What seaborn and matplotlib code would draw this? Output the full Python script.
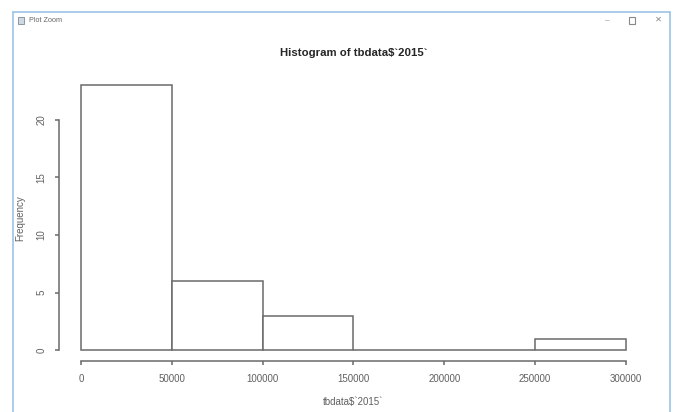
import matplotlib
matplotlib.use("Agg")
import matplotlib.pyplot as plt
from matplotlib.patches import Rectangle
import seaborn as sns
import numpy as np

# ---- data ----
bin_edges = [0, 50000, 100000, 150000, 200000, 250000, 300000]
bin_counts = [23, 6, 3, 0, 0, 1]
x_ticks = [0, 50000, 100000, 150000, 200000, 250000, 300000]
y_ticks = [0, 5, 10, 15, 20]
title = "Histogram of tbdata$`2015`"
x_label = "tbdata$`2015`"
y_label = "Frequency"

bin_mids = [(a + b) / 2 for a, b in zip(bin_edges[:-1], bin_edges[1:])]

sns.set_theme(style="white")
plt.rcParams['font.family'] = ['Liberation Sans', 'DejaVu Sans']

W, H = 676, 412
fig = plt.figure(figsize=(W / 100, H / 100), dpi=100)
fig.patch.set_facecolor("white")

def fx(px):
    return px / W

def fy(py):
    return 1 - py / H

# axes region in pixels
left, right, top, bottom = 59.2, 647.8, 74.4, 361.0
ax = fig.add_axes([fx(left), fy(bottom), fx(right) - fx(left), fy(top) - fy(bottom)])

line_col = "#6a6a6a"
text_col = "#606060"

sns.histplot(x=bin_mids, weights=bin_counts, bins=bin_edges, ax=ax,
             color="white", edgecolor=line_col, linewidth=1.1, alpha=1.0)

xmax = bin_edges[-1]
ymax = max(bin_counts)
ax.set_xlim(-0.04 * xmax, xmax * 1.04)
ax.set_ylim(-0.04 * ymax, ymax * 1.04)
ax.set_facecolor("white")

for s in ["top", "right"]:
    ax.spines[s].set_visible(False)
ax.spines["left"].set_bounds(y_ticks[0], y_ticks[-1])
ax.spines["bottom"].set_bounds(x_ticks[0], x_ticks[-1])
for s in ["left", "bottom"]:
    ax.spines[s].set_color(line_col)
    ax.spines[s].set_linewidth(1.1)

ax.set_xticks(x_ticks)
ax.set_xticklabels([str(v) for v in x_ticks])
ax.set_yticks(y_ticks)
ax.set_yticklabels([str(v) for v in y_ticks])
ax.tick_params(axis="both", direction="out", length=3.0, width=1.1, color=line_col,
               labelsize=7, labelcolor=text_col, bottom=True, left=True)
ax.tick_params(axis="x", pad=6)
for lab in ax.get_yticklabels():
    lab.set_rotation(90)
    lab.set_va("center")
    lab.set_ha("center")
ax.tick_params(axis="y", pad=10)

ax.set_xlabel("")
ax.set_ylabel("")
ax.grid(False)

fig.text(fx((left + right) / 2), fy(52.5), title, ha="center", va="center",
         fontsize=8.2, fontweight="bold", color="#262626")
fig.text(fx((left + right) / 2), fy(402), x_label, ha="center", va="center",
         fontsize=7, color=text_col)
fig.text(fx(20), fy((top + bottom) / 2), y_label, ha="center", va="center",
         rotation=90, fontsize=7, color=text_col)

# ---- window chrome ----
border_col = "#9cc3e6"
fig.add_artist(plt.Line2D([fx(13), fx(13)], [fy(12), 0], transform=fig.transFigure,
                          color=border_col, lw=1.2))
fig.add_artist(plt.Line2D([fx(670), fx(670)], [fy(12), 0], transform=fig.transFigure,
                          color=border_col, lw=1.2))
fig.add_artist(plt.Line2D([fx(13), fx(670)], [fy(12), fy(12)], transform=fig.transFigure,
                          color=border_col, lw=1.2))
fig.add_artist(Rectangle((fx(18), fy(24)), fx(6), fy(17) - fy(24), transform=fig.transFigure,
                         facecolor="#cfd8e0", edgecolor="#7a8a99", lw=0.6))
fig.text(fx(29), fy(20.5), "Plot Zoom", ha="left", va="center", fontsize=5.2, color="#666666")
fig.text(fx(607), fy(20.5), "\u2013", ha="center", va="center", fontsize=6, color="#888888")
fig.add_artist(Rectangle((fx(629), fy(24)), fx(6), fy(17) - fy(24), transform=fig.transFigure,
                         facecolor="none", edgecolor="#888888", lw=0.8))
fig.text(fx(658), fy(20.5), "\u2715", ha="center", va="center", fontsize=6, color="#888888")

fig.savefig("out.png", dpi=100, facecolor="white")
